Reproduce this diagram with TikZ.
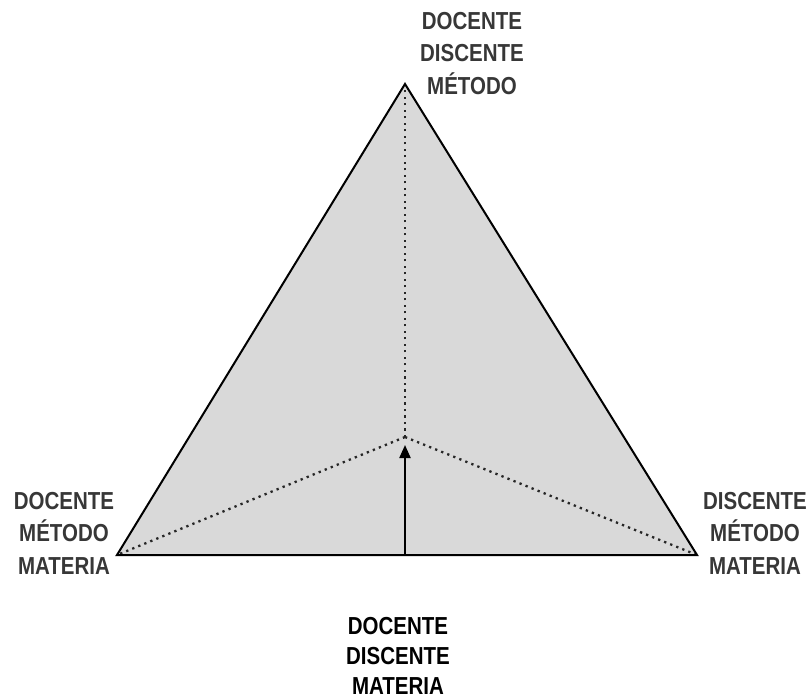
\documentclass[tikz,border=0pt]{standalone}
\usepackage{fontspec}
\setmainfont{Liberation Sans}
\usetikzlibrary{arrows.meta}
\definecolor{trifill}{RGB}{217,217,217}
\definecolor{labgray}{RGB}{55,55,55}
\tikzset{
  lab/.style={font=\bfseries\fontsize{20.5}{27}\selectfont, align=center, inner sep=0pt, transform shape, yscale=1.2},
  edge/.style={draw=black, line width=2pt, line join=miter},
  dotline/.style={line width=2.3pt, dash pattern=on 2.3pt off 4.2pt, draw=black!85},
  arr/.style={line width=2.1pt, -{Triangle[length=13pt,width=11pt]}}
}
\begin{document}
\begin{tikzpicture}[x=1pt,y=-1pt]
\useasboundingbox (0,0) rectangle (811,700);
\coordinate (A) at (405,84);
\coordinate (L) at (117,555);
\coordinate (R) at (697,555);
\coordinate (C) at (405,437);
\coordinate (B) at (405,555);
\coordinate (T) at (405,445);
\fill[trifill] (A) -- (L) -- (R) -- cycle;
\draw[dotline] (C) -- (A);
\draw[dotline] (C) -- (L);
\draw[dotline] (C) -- (R);
\draw[edge] (A) -- (L) -- (R) -- cycle;
\draw[arr] (B) -- (T);
\node[lab, text=labgray, anchor=north] (top) at (472,12) {DOCENTE\\DISCENTE\\MÉTODO};
\node[lab, text=labgray, anchor=north] (left) at (64,492) {DOCENTE\\MÉTODO\\MATERIA};
\node[lab, text=labgray, anchor=north] (right) at (755,492) {DISCENTE\\MÉTODO\\MATERIA};
\node[lab, text=black, anchor=north, font=\bfseries\fontsize{20.5}{25}\selectfont] (bot) at (398,617) {DOCENTE\\DISCENTE\\MATERIA};
\end{tikzpicture}
\end{document}
